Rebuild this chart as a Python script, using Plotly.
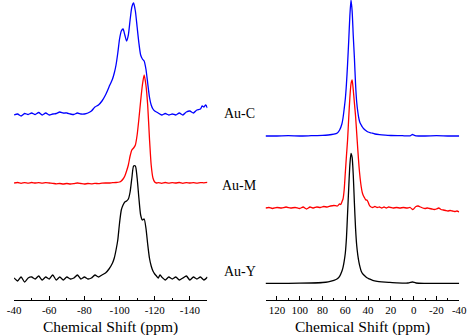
import plotly.graph_objects as go

# ---------------- data ----------------
# Left panel: ppm and intensities (arbitrary units)
left_c_ppm = [-40, -42, -44, -46, -48, -50, -52, -54, -56, -58, -60, -62, -64, -66, -68, -70,
              -72, -74, -76, -78, -80, -82, -84, -86, -88, -90, -92, -94, -96, -97, -98, -99,
              -100, -101, -102, -103, -104, -105, -106, -107, -108, -109, -110, -111, -112,
              -113, -114, -115, -116, -117, -118, -119, -120, -121, -122, -124, -126, -128,
              -130, -132, -134, -136, -138, -140, -142, -144, -146, -147, -148, -149, -150]
left_c_int = [0, 1, -1, 1.5, 0.5, 2, 0.5, 2.5, 0, 2, 0, 1, 1.5, 3, 2, 2,
              1, 0.5, 2, 1, 1, 2, 4, 8, 10, 14, 20, 28, 36, 42, 50, 62,
              76, 84, 86, 80, 74, 80, 95, 108, 112, 104, 88, 72, 60,
              56, 54, 46, 32, 18, 10, 6, 4, 3, 2, 0, 1.5, 0,
              1, 0, 2, 0, 3, 4, 2, 5, 6, 9, 8, 10, 7]

left_m_ppm = [-40, -42, -44, -46, -48, -50, -52, -54, -56, -58, -60, -62, -64, -66, -68, -70,
              -72, -74, -76, -78, -80, -82, -84, -86, -88, -90, -92, -94, -96, -98,
              -100, -101, -102, -103, -104, -105, -106, -107, -108, -109, -110, -111, -112,
              -113, -114, -115, -116, -117, -118, -119, -120, -121, -122, -124, -126, -128,
              -130, -132, -134, -136, -138, -140, -142, -144, -146, -148, -150]
left_m_int = [0, 0.5, -0.3, 0.4, -0.2, 0.5, 0, 0.3, -0.2, 0.4, 0, -0.3, -0.8, -0.5, -1, -0.5,
              -1, -0.6, 0, -0.5, -1, -0.5, -0.8, -0.4, -0.6, -0.2, 0, 0, 0.3, 0.5,
              1, 2, 4, 7, 12, 18, 27, 33, 35, 38, 48, 64, 82,
              98, 108, 98, 78, 45, 18, 5, 1, 0, 0.3, -0.3, 0.5, -0.2,
              0.4, 0, 0.5, -0.3, 0.4, 0, 0.3, -0.2, 0.4, 0.2, 0.6]

left_y_ppm = [-40, -42, -44, -46, -48, -50, -52, -54, -56, -58, -60, -62, -64, -66, -68, -70,
              -72, -74, -76, -78, -80, -82, -84, -86, -88, -90, -92, -94, -96, -97, -98, -99,
              -100, -101, -102, -103, -104, -105, -106, -107, -108, -109, -110, -111, -112,
              -113, -114, -115, -116, -117, -118, -119, -120, -121, -122, -123, -124, -126,
              -128, -130, -132, -134, -136, -138, -140, -142, -144, -146, -148, -150]
left_y_int = [0, -3, 1, -4, 0, 1, -1, 2, -2, 1, -1, 3, -2, 1, -2, 1,
              -1, 0, 3, -1, 1, -1, 0, 3, 1, 3, 5, 9, 15, 20, 28, 38,
              55, 68, 73, 76, 77, 79, 86, 100, 112, 112, 100, 80, 63,
              58, 59, 50, 34, 20, 12, 7, 4, 2, 0, 3, 1, -2,
              1, -1, 1, -2, 0, 2, -2, 1, -1, 1, -2, 1]

# Right panel
right_c_ppm = [130, 120, 110, 100, 90, 80, 75, 70, 67, 65, 63, 62, 61, 60, 59, 58, 57, 56, 55,
               54, 53, 52, 51, 50, 49, 48, 47, 46, 45, 44, 42, 40, 37, 34, 30, 25, 20, 10, 3,
               1, 0, -2, -10, -20, -30, -40]
right_c_int = [0, 0, 0.3, 0, 0.3, 0.6, 1, 1.8, 3, 6, 12, 18, 27, 37, 52, 72, 95, 120, 136,
               125, 100, 78, 52, 34, 24, 17, 13, 11, 9, 7.5, 5.5, 4, 3, 2, 1.3, 0.8, 0.5, 0.3, 0.2,
               1.5, 1, 0.2, 0, 0.3, 0, 0]

right_m_ppm = [130, 127, 124, 120, 116, 112, 108, 104, 100, 97, 94, 91, 88, 85, 82, 79, 76, 73,
               70, 67, 65, 64, 63, 62, 61, 60, 59, 58, 57, 56, 55, 54, 53, 52, 51, 50, 49, 48,
               47, 46, 45, 44, 43, 42, 41, 40, 39, 38, 36, 34, 32, 30, 28, 26, 24, 22, 20, 18,
               15, 12, 9, 6, 3, 1, 0, -2, -4, -6, -8, -10, -12, -14, -16, -18, -20, -22, -24,
               -26, -28, -30, -32, -34, -36, -38, -40]
right_m_int = [0, 0.5, -0.5, 0.5, 0, 1, 0, 0.5, -0.5, 1, -1, 1, 0, 1, 0.5, 1.5, 1, 2,
               2.5, 2, 4, 3.5, 6, 9, 18, 35, 52, 68, 90, 110, 124, 128, 118, 105, 92, 75, 58, 42,
               30, 21, 15, 12, 10, 8, 8, 6, 3, 1.5, 0.5, 1.5, 0.5, 1, 0, 1, 0, 1, 0.5, 0,
               0.5, 0, 0.5, 0, 0.5, -1.5, -1, 1.5, 2, 1, 0, -0.5, 0, -0.5, -1, -1.5, -1, 0, -1.5,
               -2, -2.5, -3, -2.5, -3, -3.5, -3, -4]

right_y_ppm = [130, 110, 90, 80, 75, 70, 67, 65, 63, 62, 61, 60, 59, 58, 57, 56, 55, 54, 53,
               52, 51, 50, 49, 48, 47, 46, 45, 43, 41, 39, 36, 32, 28, 22, 15, 5, 1, 0, -2,
               -10, -40]
right_y_int = [0, 0, 0.3, 0.8, 1.5, 3, 4.5, 7, 12, 16, 22, 30, 45, 70, 95, 118, 130, 126, 108,
               80, 55, 38, 28, 21, 16, 12, 10, 7.5, 5.5, 4.5, 3, 2, 1.5, 1, 0.5, 0.3, 1.3, 1, 0.3,
               0, 0]

sample_names = ["Au-C", "Au-M", "Au-Y"]
colors = ["#0000ff", "#ff0000", "#000000"]
axis_title = "Chemical Shift (ppm)"

left_ticks = [-40, -60, -80, -100, -120, -140]
left_ticktext = ["-40", "-60", "-80", "-100", "-120", "-140"]
right_ticks = [120, 100, 80, 60, 40, 20, 0, -20, -40]
right_ticktext = ["120", "100", "80", "60", "40", "20", "0", "-20", "-40"]

# vertical stacking offsets (layout)
left_offsets = [185, 117, 22]
right_offsets = [164, 92, 16.7]

FONT = "Liberation Serif, Times New Roman, serif"

fig = go.Figure()
left_sets = [(left_c_ppm, left_c_int), (left_m_ppm, left_m_int), (left_y_ppm, left_y_int)]
right_sets = [(right_c_ppm, right_c_int), (right_m_ppm, right_m_int), (right_y_ppm, right_y_int)]

for (ppm, inten), off, col in zip(left_sets, left_offsets, colors):
    fig.add_trace(go.Scatter(x=ppm, y=[v + off for v in inten], mode="lines",
                             line=dict(color=col, width=1.3, shape="spline", smoothing=0.6),
                             xaxis="x", yaxis="y", showlegend=False, hoverinfo="skip"))
for (ppm, inten), off, col in zip(right_sets, right_offsets, colors):
    fig.add_trace(go.Scatter(x=ppm, y=[v + off for v in inten], mode="lines",
                             line=dict(color=col, width=1.3, shape="spline", smoothing=0.6),
                             xaxis="x2", yaxis="y2", showlegend=False, hoverinfo="skip"))

W, H = 474, 335
PLOT_H = 300
axis_common = dict(showline=True, linecolor="black", linewidth=1, ticks="inside", ticklen=4,
                   tickcolor="black", showgrid=False, zeroline=False,
                   tickfont=dict(family=FONT, size=11, color="black"),
                   ticklabeloverflow="allow",
                   minor=dict(tickmode="linear", tick0=0, dtick=10, ticks="inside", ticklen=2,
                              tickcolor="black", showgrid=False))

left_dom = [7.3 / W, 207 / W]
right_dom = [267 / W, 467 / W]
fig.update_layout(
    width=W, height=H, margin=dict(l=0, r=0, t=0, b=H - PLOT_H),
    paper_bgcolor="white", plot_bgcolor="white",
    xaxis=dict(domain=left_dom, range=[-40, -150], tickmode="array",
               tickvals=left_ticks, ticktext=left_ticktext, anchor="y", **axis_common),
    xaxis2=dict(domain=right_dom, range=[130, -40], tickmode="array",
                tickvals=right_ticks, ticktext=right_ticktext, anchor="y2", **axis_common),
    yaxis=dict(range=[0, 300], visible=False, domain=[0, 1]),
    yaxis2=dict(range=[0, 300], visible=False, domain=[0, 1], anchor="x2"),
)

# axis titles
for dom in (left_dom, right_dom):
    fig.add_annotation(text=axis_title, x=(dom[0] + dom[1]) / 2, xref="paper",
                       y=(PLOT_H - 327) / PLOT_H, yref="paper", xanchor="center", yanchor="middle",
                       showarrow=False, font=dict(family=FONT, size=15.5, color="black"))

label_x = [221.7, 220, 221.7]
label_y = [186.7, 115, 28.3]
for name, lx, ly in zip(sample_names, label_x, label_y):
    fig.add_annotation(text=name, x=lx / W, xref="paper", y=ly, yref="y",
                       xanchor="left", yanchor="middle", showarrow=False,
                       font=dict(family=FONT, size=14, color="black"))

fig.write_html("out.html")
